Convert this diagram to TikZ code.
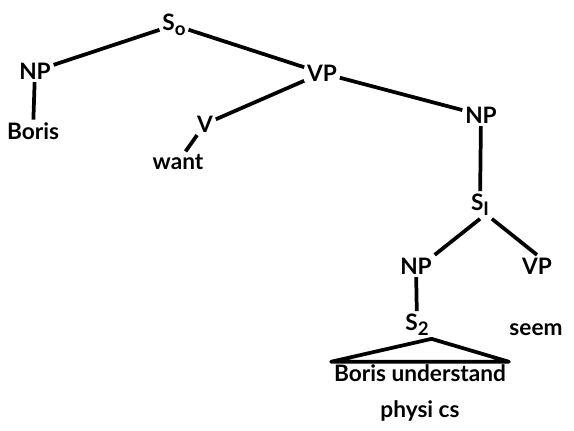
\documentclass[tikz,border=0pt]{standalone}
\usepackage{fontspec}
\setmainfont{Lato}
\usepackage{tikz}
\usetikzlibrary{positioning}

\newcommand{\lowr}[1]{\raisebox{-0.45ex}{\fontsize{14}{14}\selectfont #1}}

\tikzset{
  cat/.style={inner sep=2pt, font=\fontsize{17}{27}\selectfont\bfseries},
  branch/.style={line width=2.8pt},
}

\begin{document}
\begin{tikzpicture}[x=0.75pt,y=0.75pt,yscale=-1,xscale=1]
\useasboundingbox (0,0) rectangle (574,430);

% Text Node
\node [cat] (so) at (174,25) {S\lowr{o}};
% Text Node
\node [cat] (np1) at (35,71) {NP};
% Text Node
\node [cat] (boris) at (33,131) {Boris};
% Text Node
\node [cat] (vp1) at (322,73) {VP};
% Text Node
\node [cat] (v) at (205,124) {V};
% Text Node
\node [cat] (want) at (178,162) {want};
% Text Node
\node [cat] (np2) at (481,115) {NP};
% Text Node
\node [cat] (s1) at (480,205) {S\lowr{I}};
% Text Node
\node [cat] (np3) at (416,266) {NP};
% Text Node
\node [cat] (vp2) at (537,266) {VP};
% Text Node
\node [cat] (seem) at (536,330) {seem};
% Text Node
\node [cat] (s2) at (417,325) {S\lowr{2}};
% Text Node
\node [cat, align=center] (bu) at (420,393) {Boris understand\\physi cs};

%Straight Lines
\draw [branch] (np1) -- (so);
\draw [branch] (so) -- (vp1);
\draw [branch] (np1) -- (boris);
\draw [branch] (vp1) -- (v);
\draw [branch] (v) -- (want);
\draw [branch] (vp1) -- (np2);
\draw [branch] (np2) -- (s1);
\draw [branch] (s1.south) -- (np3.north east);
\draw [branch] (s1.south east) -- (vp2.north);
\draw [branch] (np3) -- (s2);
%Triangle
\draw [branch, line join=round] (s2.south east) -- (bu.north west) -- (bu.north east) -- cycle;

\end{tikzpicture}
\end{document}
